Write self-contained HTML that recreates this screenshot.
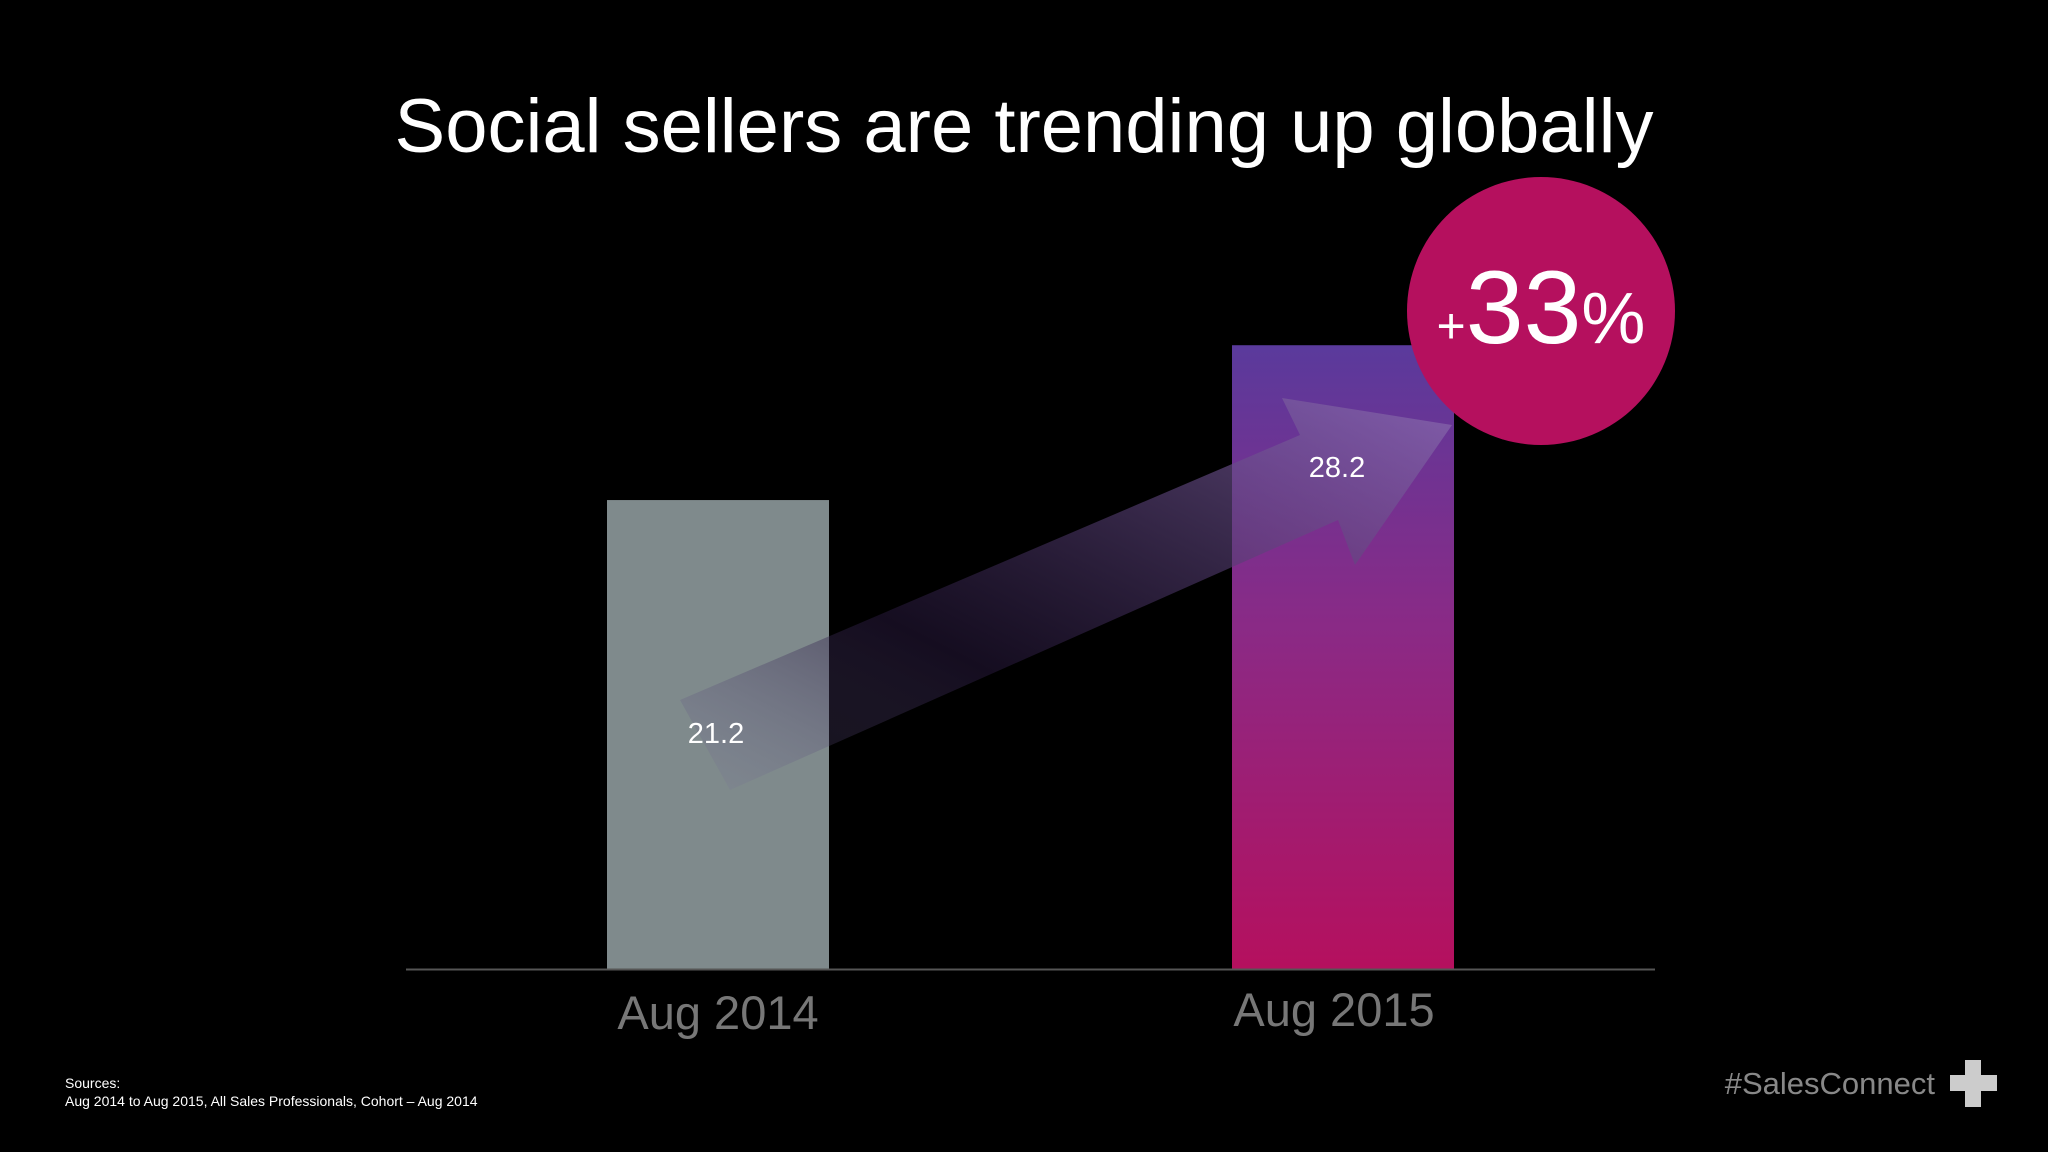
<!DOCTYPE html>
<html><head><meta charset="utf-8"><style>
html,body{margin:0;padding:0;background:#000;width:2048px;height:1152px;overflow:hidden;font-family:"Liberation Sans",sans-serif}
</style></head><body>
<svg width="2048" height="1152" viewBox="0 0 2048 1152">
<defs>
<linearGradient id="g2" x1="0" y1="0" x2="0" y2="1">
<stop offset="0" stop-color="#5a3a9c"/><stop offset="0.45" stop-color="#8a2a86"/><stop offset="1" stop-color="#b5105e"/></linearGradient>
<linearGradient id="ga" x1="0" y1="1" x2="1" y2="0">
<stop offset="0" stop-color="#7a6fa0" stop-opacity="0.1"/><stop offset="0.35" stop-color="#2a1a40" stop-opacity="0.5"/><stop offset="1" stop-color="#8a6ab0" stop-opacity="0.75"/></linearGradient>
</defs>
<text x="1024" y="152" text-anchor="middle" fill="#fff" font-size="76">Social sellers are trending up globally</text>
<g id="bars"></g>
<polygon points="680,700 1300,435 1282,398 1452,425 1355,565 1338,520 730,790" fill="url(#ga)"/>
<g id="labels"></g>
<line x1="406" y1="969.5" x2="1655" y2="969.5" stroke="#555" stroke-width="2"/>
<circle cx="1541" cy="311" r="134" fill="#b5105e"/>
<text x="1541" y="343" text-anchor="middle" fill="#fff"><tspan font-size="50">+</tspan><tspan font-size="104">33</tspan><tspan font-size="72">%</tspan></text>
<text x="65" y="1088" fill="#fff" font-size="14">Sources:</text>
<text x="65" y="1106" fill="#fff" font-size="14">Aug 2014 to Aug 2015, All Sales Professionals, Cohort – Aug 2014</text>
<text x="1935" y="1094" text-anchor="end" fill="#888" font-size="31">#SalesConnect</text>
<g><rect x="1965" y="1060" width="16" height="47" fill="#ccc"/><rect x="1950" y="1075" width="47" height="16" fill="#ccc"/></g>
</svg>
<script>
const categories=["Aug 2014","Aug 2015"];
const values=[21.2,28.2];
const y0=969,pxPer=22.12;
const yS=v=>y0-v*pxPer;
const xC=[718,1343];
const fills=["#7f8a8c","url(#g2)"];
const ns="http://www.w3.org/2000/svg";
const bars=document.getElementById("bars"),labels=document.getElementById("labels");
categories.forEach((c,i)=>{
 const r=document.createElementNS(ns,"rect");
 r.setAttribute("x",xC[i]-111);r.setAttribute("width",222);
 r.setAttribute("y",yS(values[i]));r.setAttribute("height",y0-yS(values[i]));
 r.setAttribute("fill",fills[i]);
 
 
 bars.appendChild(r);
 const t=document.createElementNS(ns,"text");
 t.setAttribute("x",i==0?xC[i]-2:xC[i]-6);t.setAttribute("y",i==0?743:477);
 t.setAttribute("text-anchor","middle");t.setAttribute("fill","#fff");t.setAttribute("font-size","29");
 t.textContent=values[i].toFixed(1);
 
 
 labels.appendChild(t);
 const l=document.createElementNS(ns,"text");
 l.setAttribute("x",i==0?xC[i]:xC[i]-9);l.setAttribute("y",i==0?1029:1026);
 l.setAttribute("text-anchor","middle");l.setAttribute("fill","#777");l.setAttribute("font-size","47");
 l.textContent=c;
 
 
 labels.appendChild(l);
});
</script>
</body></html>
